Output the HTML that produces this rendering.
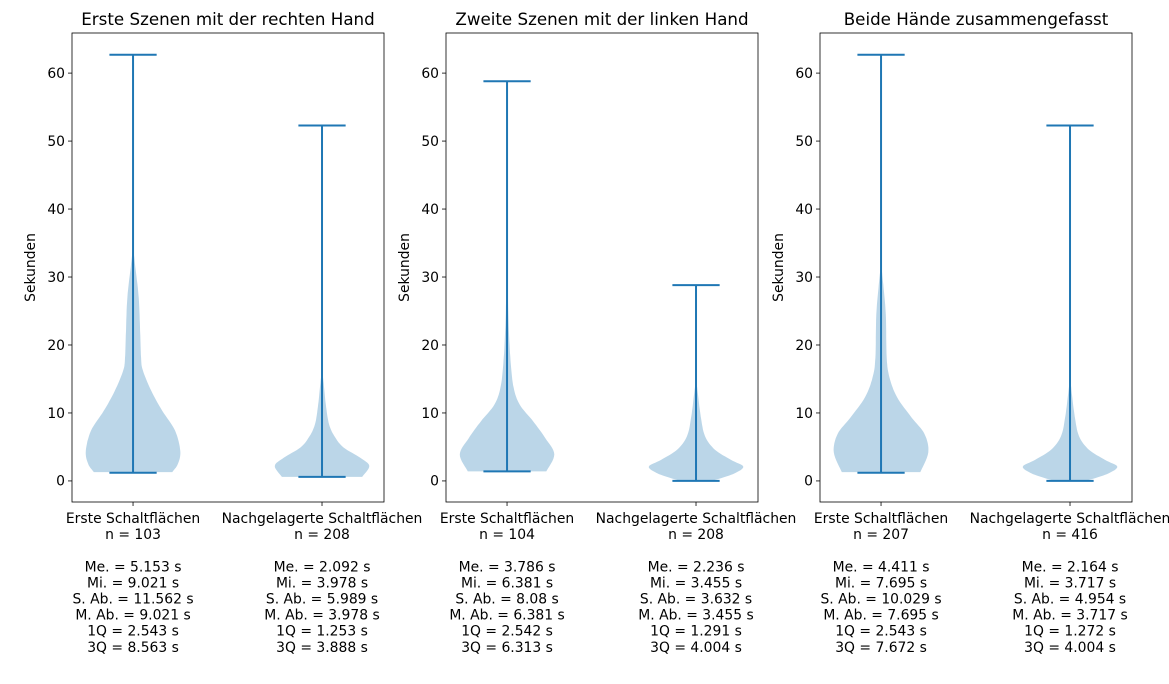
<!DOCTYPE html>
<html><head><meta charset="utf-8"><style>
html,body{margin:0;padding:0;background:#fff}
svg{display:block;font-family:"DejaVu Sans","Liberation Sans",sans-serif}
</style></head><body>
<svg id="chart" width="1169" height="684" viewBox="0 0 1169 684"></svg>
<script>
// ---- data ----
const panelTitles = ["Erste Szenen mit der rechten Hand","Zweite Szenen mit der linken Hand","Beide Hände zusammengefasst"];
const categories = ["Erste Schaltflächen","Nachgelagerte Schaltflächen"];
const yTicks = [0,10,20,30,40,50,60];
// min / max per violin [panel][violin]
const mins = [[1.2,0.6],[1.4,0.0],[1.2,0.0]];
const maxs = [[62.7,52.3],[58.8,28.8],[62.7,52.3]];
// density profiles: [value, relative half-width]
const profile_p1_v1 = [[1.3,0.83],[2.5,0.95],[4.4,1.0],[7.4,0.89],[10.3,0.62],[13.2,0.39],[16.2,0.21],[18.1,0.17],[22,0.15],[27,0.12],[32,0.04],[34.5,0]];
const profile_p1_v2 = [[0.6,0.85],[2.2,1.0],[3.4,0.81],[4.9,0.46],[6.4,0.28],[8.3,0.15],[11.3,0.08],[14.7,0.03],[16.2,0]];
const profile_p2_v1 = [[1.4,0.83],[3.9,1.0],[6.3,0.81],[8.8,0.55],[11.2,0.27],[13.7,0.14],[17.2,0.08],[22,0.04],[29,0.01],[32,0]];
const profile_p2_v2 = [[0,0.3],[0.35,0.5],[1.1,0.81],[2.1,1.0],[3.1,0.74],[4.6,0.4],[6.6,0.19],[9.5,0.1],[13.4,0.03],[14.9,0]];
const profile_p3_v1 = [[1.3,0.83],[4.2,1.0],[6.9,0.92],[9.3,0.65],[12.3,0.34],[15.2,0.18],[18.1,0.12],[24.5,0.1],[29.4,0.04],[31.9,0]];
const profile_p3_v2 = [[0,0.3],[0.35,0.5],[1.1,0.81],[2.1,1.0],[3.1,0.74],[4.6,0.4],[6.6,0.19],[9.5,0.1],[13.4,0.03],[15.4,0]];
const profiles = [[profile_p1_v1,profile_p1_v2],[profile_p2_v1,profile_p2_v2],[profile_p3_v1,profile_p3_v2]];
const nLabels = [["n = 103","n = 208"],["n = 104","n = 208"],["n = 207","n = 416"]];
const statLines = [
 [["Me. = 5.153 s","Mi. = 9.021 s","S. Ab. = 11.562 s","M. Ab. = 9.021 s","1Q = 2.543 s","3Q = 8.563 s"],
  ["Me. = 2.092 s","Mi. = 3.978 s","S. Ab. = 5.989 s","M. Ab. = 3.978 s","1Q = 1.253 s","3Q = 3.888 s"]],
 [["Me. = 3.786 s","Mi. = 6.381 s","S. Ab. = 8.08 s","M. Ab. = 6.381 s","1Q = 2.542 s","3Q = 6.313 s"],
  ["Me. = 2.236 s","Mi. = 3.455 s","S. Ab. = 3.632 s","M. Ab. = 3.455 s","1Q = 1.291 s","3Q = 4.004 s"]],
 [["Me. = 4.411 s","Mi. = 7.695 s","S. Ab. = 10.029 s","M. Ab. = 7.695 s","1Q = 2.543 s","3Q = 7.672 s"],
  ["Me. = 2.164 s","Mi. = 3.717 s","S. Ab. = 4.954 s","M. Ab. = 3.717 s","1Q = 1.272 s","3Q = 4.004 s"]]
];

// ---- layout ----
const NS="http://www.w3.org/2000/svg";
const svg=document.getElementById('chart');
const panelLeft=[72,446,820], PW=312, PT=33, PB=502;
const xMin=0.677, xMax=2.328, yMin=-3.1, yMax=65.9;
const blue="#1f77b4";
function mk(tag,attrs,parent){const e=document.createElementNS(NS,tag);for(const k in attrs)e.setAttribute(k,attrs[k]);(parent||svg).appendChild(e);return e;}
// smooth a profile with Catmull-Rom interpolation in (value, width)
function smooth(prof){
  const out=[];
  for(let i=0;i<prof.length-1;i++){
    const p0=prof[Math.max(0,i-1)],p1=prof[i],p2=prof[i+1],p3=prof[Math.min(prof.length-1,i+2)];
    for(let s=0;s<8;s++){
      const t=s/8,t2=t*t,t3=t2*t;
      const f=(a,b,c,d)=>0.5*((2*b)+(-a+c)*t+(2*a-5*b+4*c-d)*t2+(-a+3*b-3*c+d)*t3);
      out.push([f(p0[0],p1[0],p2[0],p3[0]),Math.max(0,f(p0[1],p1[1],p2[1],p3[1]))]);
    }
  }
  out.push(prof[prof.length-1]);
  return out;
}

panelTitles.forEach((title,p)=>{
  const L=panelLeft[p];
  const sx=v=>L+(v-xMin)/(xMax-xMin)*PW;
  const sy=v=>PB-(v-yMin)/(yMax-yMin)*(PB-PT);
  const g=mk('g',{});
  
  
  for(let v=0;v<2;v++){
    const pos=v+1, prof=smooth(profiles[p][v]), hw=0.25;
    const right=prof.map(d=>[sx(pos+d[1]*hw),sy(d[0])]);
    const left=prof.slice().reverse().map(d=>[sx(pos-d[1]*hw),sy(d[0])]);
    const pts=right.concat(left);
    const path=mk('path',{d:'M'+pts.map(q=>q[0].toFixed(1)+','+q[1].toFixed(1)).join('L')+'Z',fill:blue,'fill-opacity':0.3,stroke:'none'},g);
    
    
    const ln=mk('line',{x1:sx(pos),x2:sx(pos),y1:sy(mins[p][v]),y2:sy(maxs[p][v]),stroke:blue,'stroke-width':2},g);
    
    
    [mins[p][v],maxs[p][v]].forEach((val,k)=>{
      const c=mk('line',{x1:sx(pos-0.125),x2:sx(pos+0.125),y1:sy(val),y2:sy(val),stroke:blue,'stroke-width':2},g);
      
      
    });
    mk('line',{x1:sx(pos),x2:sx(pos),y1:PB,y2:PB+4,stroke:'#000','stroke-width':0.8},g);
    const lines=[categories[v],nLabels[p][v],""].concat(statLines[p][v]);
    const t=mk('text',{x:sx(pos),y:523,'font-size':'13.9','text-anchor':'middle',fill:'#000'},g);
    
    
    lines.forEach((s,i)=>{const ts=mk('tspan',{x:sx(pos),y:(523+i*16.1).toFixed(1)},t);ts.textContent=s||' ';});
  }
  const fr=mk('rect',{x:L,y:PT,width:PW,height:PB-PT,fill:'none',stroke:'#000','stroke-width':0.8},g);
  
  
  yTicks.forEach(tv=>{
    const y=sy(tv);
    mk('line',{x1:L-4,x2:L,y1:y,y2:y,stroke:'#000','stroke-width':0.8},g);
    const tl=mk('text',{x:L-7,y:y+4.8,'font-size':'13.9','text-anchor':'end'},g);
    
    
    tl.textContent=tv;
  });
  const yt=mk('text',{x:0,y:0,'font-size':'13.9','text-anchor':'middle',transform:`translate(${L-37},${(PT+PB)/2}) rotate(-90)`},g);
  
  
  yt.textContent='Sekunden';
  const tt=mk('text',{x:L+PW/2,y:25,'font-size':'16.7','text-anchor':'middle'},g);
  
  
  tt.textContent=title;
});
</script>
</body></html>
